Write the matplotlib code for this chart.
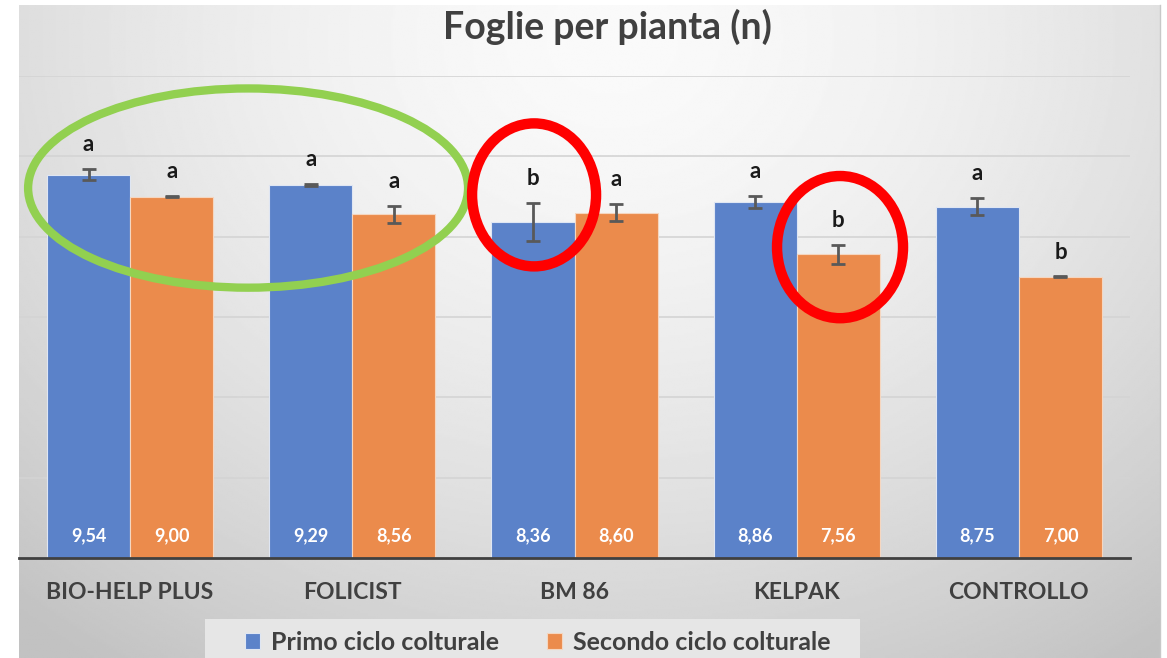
import numpy as np
import matplotlib.pyplot as plt
from matplotlib.patches import Ellipse, Rectangle

categories = ['BIO-HELP PLUS', 'FOLICIST', 'BM 86', 'KELPAK', 'CONTROLLO']
primo = [9.54, 9.29, 8.36, 8.86, 8.75]
secondo = [9.00, 8.56, 8.60, 7.56, 7.00]
primo_err = [0.14, 0.03, 0.47, 0.15, 0.21]
secondo_err = [0.01, 0.21, 0.22, 0.24, 0.01]
primo_letters = ['a', 'a', 'b', 'a', 'a']
secondo_letters = ['a', 'a', 'a', 'b', 'b']
series_names = ['Primo ciclo colturale', 'Secondo ciclo colturale']

plt.rcParams['font.family'] = ['Lato', 'DejaVu Sans']
W, H = 1167, 658
fig = plt.figure(figsize=(W / 100, H / 100), dpi=100)

# sfondo sfumato stile Excel
bg = fig.add_axes([19 / W, 0, (1160 - 19) / W, 1 - 5 / H])
yy, xx = np.mgrid[0:1:300j, 0:1:600j]
d = np.sqrt(((xx - 0.52) / 0.75) ** 2 + ((yy - 0.05) / 1.1) ** 2)
shade = np.clip(0.98 - 0.2 * d ** 1.6, 0.76, 0.98)
bg.imshow(shade, cmap='gray', vmin=0, vmax=1, aspect='auto', extent=[0, 1, 1, 0])
bg.set_axis_off()

ax = fig.add_axes([19 / W, 1 - 558 / H, (1130 - 19) / W, (558 - 76) / H])
ax.patch.set_alpha(0)
x = np.arange(len(categories))
w = 0.374
blue = '#5b82c9'
orange = '#eb8b4c'
b1 = ax.bar(x - w / 2, primo, w, color=blue, edgecolor='#dfe6f3', linewidth=0.8, zorder=2)
b2 = ax.bar(x + w / 2, secondo, w, color=orange, edgecolor='#f5d6c0', linewidth=0.8, zorder=2)
ax.errorbar(x - w / 2, primo, yerr=primo_err, fmt='none', ecolor='#595959', elinewidth=2, capsize=5, capthick=2, zorder=3)
ax.errorbar(x + w / 2, secondo, yerr=secondo_err, fmt='none', ecolor='#595959', elinewidth=2, capsize=5, capthick=2, zorder=3)

for xi, v, e, l in zip(x - w / 2, primo, primo_err, primo_letters):
    ax.annotate(l, (xi, v + e), xytext=(0, 10), textcoords='offset points', ha='center', va='bottom',
                fontsize=16, fontweight='bold', color='#1a1a1a', zorder=4)
    ax.text(xi, 0.55, f'{v:.2f}'.replace('.', ','), ha='center', va='center', color='white',
            fontsize=13, fontweight='bold', zorder=4)
for xi, v, e, l in zip(x + w / 2, secondo, secondo_err, secondo_letters):
    ax.annotate(l, (xi, v + e), xytext=(0, 10), textcoords='offset points', ha='center', va='bottom',
                fontsize=16, fontweight='bold', color='#1a1a1a', zorder=4)
    ax.text(xi, 0.55, f'{v:.2f}'.replace('.', ','), ha='center', va='center', color='white',
            fontsize=13, fontweight='bold', zorder=4)

ax.set_xlim(-0.5, len(categories) - 0.5)
ax.set_ylim(0, 12)
ax.set_yticks(np.arange(0, 13, 2))
ax.yaxis.grid(True, color='#d4d4d4', linewidth=1.2, zorder=0)
ax.set_axisbelow(True)
ax.tick_params(axis='y', left=False, labelleft=False)
ax.tick_params(axis='x', bottom=False, pad=14)
ax.set_xticks(x)
ax.set_xticklabels(categories, fontsize=16.5, fontweight='bold', color='#404040')
for s in ['top', 'right', 'left']:
    ax.spines[s].set_visible(False)
ax.spines['bottom'].set_color('#404040')
ax.spines['bottom'].set_linewidth(2)
ax.spines['bottom'].set_zorder(5)

# cerchi di evidenziazione
ax.add_patch(Ellipse((0.531, 9.21), 1.98, 4.96, fill=False, edgecolor='#92d050', linewidth=6, zorder=6))
ax.add_patch(Ellipse((1.818, 9.04), 0.558, 3.56, fill=False, edgecolor='#ff0000', linewidth=7.5, zorder=6))
ax.add_patch(Ellipse((3.195, 7.74), 0.567, 3.54, fill=False, edgecolor='#ff0000', linewidth=7.5, zorder=6))

fig.text(607 / W, 1 - 27 / H, 'Foglie per pianta (n)', ha='center', va='center', fontsize=27,
         fontweight='bold', color='#404040')

# riquadro legenda
fig.add_artist(Rectangle((205 / W, 0), (860 - 205) / W, 1 - 619 / H, transform=fig.transFigure,
                         facecolor='#e6e6e6', edgecolor='none'))
leg = fig.legend([b1, b2], series_names, loc='center left', bbox_to_anchor=(245 / W, 1 - 642 / H),
                 ncol=2, frameon=False, fontsize=18, handlelength=0.6, handleheight=0.6,
                 columnspacing=1.9, handletextpad=0.45, borderpad=0, borderaxespad=0)
for t in leg.get_texts():
    t.set_fontweight('bold')
    t.set_color('#404040')

fig.add_artist(plt.Line2D([1160 / W, 1160 / W], [0, 1 - 5 / H], color='#c8c8c8', linewidth=1))

fig.savefig('out.png', dpi=100)
